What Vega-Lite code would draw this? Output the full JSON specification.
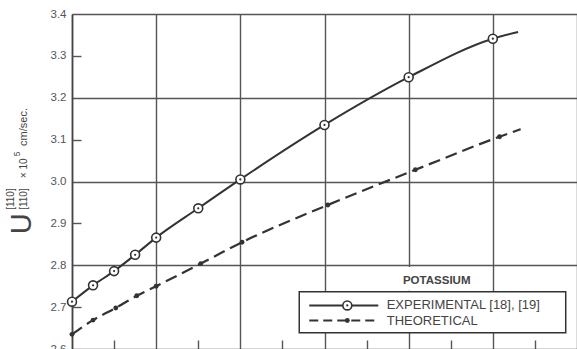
{
  "$schema": "https://vega.github.io/schema/vega-lite/v6.json",
  "width": 505,
  "height": 335,
  "autosize": {"type": "none"},
  "padding": {"left": 72, "top": 14, "right": 0, "bottom": 0},
  "background": "white",
  "config": {"view": {"stroke": null}, "font": "Liberation Sans"},
  "datasets": {
    "experimental": [
      {"x": 0, "u": 2.713, "measured": true},
      {"x": 0.25, "u": 2.752, "measured": true},
      {"x": 0.5, "u": 2.786, "measured": true},
      {"x": 0.75, "u": 2.825, "measured": true},
      {"x": 1.0, "u": 2.866, "measured": true},
      {"x": 1.5, "u": 2.936, "measured": true},
      {"x": 2.0, "u": 3.005, "measured": true},
      {"x": 3.0, "u": 3.135, "measured": true},
      {"x": 4.0, "u": 3.249, "measured": true},
      {"x": 5.0, "u": 3.341, "measured": true},
      {"x": 5.3, "u": 3.357, "measured": false}
    ],
    "theoretical": [
      {"x": 0, "u": 2.635, "computed": true},
      {"x": 0.25, "u": 2.669, "computed": true},
      {"x": 0.52, "u": 2.698, "computed": true},
      {"x": 0.77, "u": 2.727, "computed": true},
      {"x": 1.0, "u": 2.75, "computed": true},
      {"x": 1.53, "u": 2.804, "computed": true},
      {"x": 2.02, "u": 2.855, "computed": true},
      {"x": 3.04, "u": 2.944, "computed": true},
      {"x": 4.08, "u": 3.028, "computed": true},
      {"x": 5.08, "u": 3.107, "computed": true},
      {"x": 5.33, "u": 3.125, "computed": false}
    ],
    "one": [{}]
  },
  "resolve": {"axis": {"x": "independent", "y": "independent"}},
  "layer": [
    {
      "data": {"name": "experimental"},
      "mark": {"type": "line", "interpolate": "monotone", "color": "#333", "strokeWidth": 2},
      "encoding": {
        "x": {"field": "x", "type": "quantitative",
          "scale": {"domain": [0, 6], "nice": false, "zero": false},
          "axis": {"orient": "bottom", "values": [0, 1, 2, 3, 4, 5, 6], "grid": true, "gridColor": "#555", "gridWidth": 1.4, "ticks": false, "labels": false, "domain": false, "title": null}},
        "y": {"field": "u", "type": "quantitative",
          "scale": {"domain": [2.6, 3.4], "nice": false, "zero": false},
          "axis": {"orient": "left", "values": [2.6, 2.7, 2.8, 2.9, 3.0, 3.1, 3.2, 3.3, 3.4], "format": ".1f",
            "grid": true, "gridColor": "#555", "gridWidth": 1.4,
            "gridOpacity": {"condition": {"test": "round(datum.value*10) % 2 == 1", "value": 0}, "value": 1},
            "ticks": false, "labelPadding": 6, "labelFontSize": 11.5, "labelColor": "#555", "labelFont": "Liberation Sans",
            "domain": true, "domainColor": "#444", "domainWidth": 1.6, "title": null}}
      }
    },
    {
      "data": {"name": "theoretical"},
      "mark": {"type": "line", "interpolate": "monotone", "color": "#333", "strokeWidth": 2.2, "strokeDash": [12, 6]},
      "encoding": {
        "x": {"field": "x", "type": "quantitative",
          "axis": {"orient": "bottom", "values": [0.5, 1.5, 2.5, 3.5, 4.5, 5.5], "offset": -9, "tickSize": 9, "tickColor": "#555", "tickWidth": 1.4, "grid": false, "labels": false, "domain": false, "title": null}},
        "y": {"field": "u", "type": "quantitative",
          "axis": {"orient": "left", "values": [2.7, 2.9, 3.1, 3.3], "offset": -9, "tickSize": 9, "tickColor": "#555", "tickWidth": 1.4, "grid": false, "labels": false, "domain": false, "title": null}}
      }
    },
    {
      "data": {"name": "theoretical"},
      "transform": [{"filter": "datum.computed"}],
      "mark": {"type": "point", "shape": "circle", "filled": true, "color": "#333", "size": 24, "opacity": 1},
      "encoding": {
        "x": {"field": "x", "type": "quantitative", "axis": null},
        "y": {"field": "u", "type": "quantitative", "axis": null}
      }
    },
    {
      "data": {"name": "experimental"},
      "transform": [{"filter": "datum.measured"}],
      "mark": {"type": "point", "shape": "circle", "filled": false, "fill": "white", "fillOpacity": 1, "stroke": "#333", "strokeWidth": 1.6, "size": 80, "opacity": 1},
      "encoding": {
        "x": {"field": "x", "type": "quantitative", "axis": null},
        "y": {"field": "u", "type": "quantitative", "axis": null}
      }
    },
    {
      "data": {"name": "experimental"},
      "transform": [{"filter": "datum.measured"}],
      "mark": {"type": "point", "shape": "circle", "filled": true, "color": "#333", "size": 5, "opacity": 1},
      "encoding": {
        "x": {"field": "x", "type": "quantitative", "axis": null},
        "y": {"field": "u", "type": "quantitative", "axis": null}
      }
    },
    {
      "data": {"name": "one"},
      "mark": {"type": "rect", "fill": "white", "stroke": null},
      "encoding": {
        "x": {"datum": 3.85, "type": "quantitative", "axis": null},
        "x2": {"datum": 4.85},
        "y": {"datum": 2.796, "type": "quantitative", "axis": null},
        "y2": {"datum": 2.739}
      }
    },
    {
      "data": {"name": "one"},
      "mark": {"type": "text", "text": "POTASSIUM", "fontWeight": "bold", "fontSize": 11.5, "color": "#444", "align": "center", "baseline": "middle"},
      "encoding": {
        "x": {"datum": 4.333, "type": "quantitative", "axis": null},
        "y": {"datum": 2.763, "type": "quantitative", "axis": null}
      }
    },
    {
      "data": {"name": "one"},
      "mark": {"type": "rect", "fill": "white", "stroke": "#333", "strokeWidth": 1.5},
      "encoding": {
        "x": {"datum": 2.7, "type": "quantitative", "axis": null},
        "x2": {"datum": 5.866},
        "y": {"datum": 2.737, "type": "quantitative", "axis": null},
        "y2": {"datum": 2.639}
      }
    },
    {
      "data": {"name": "one"},
      "mark": {"type": "rule", "color": "#333", "strokeWidth": 2},
      "encoding": {
        "x": {"datum": 2.819, "type": "quantitative", "axis": null},
        "x2": {"datum": 3.639},
        "y": {"datum": 2.704, "type": "quantitative", "axis": null}
      }
    },
    {
      "data": {"name": "one"},
      "mark": {"type": "rule", "color": "#333", "strokeWidth": 2.2, "strokeDash": [9, 5]},
      "encoding": {
        "x": {"datum": 2.819, "type": "quantitative", "axis": null},
        "x2": {"datum": 3.639},
        "y": {"datum": 2.668, "type": "quantitative", "axis": null}
      }
    },
    {
      "data": {"name": "one"},
      "mark": {"type": "point", "shape": "circle", "filled": false, "fill": "white", "fillOpacity": 1, "stroke": "#333", "strokeWidth": 1.6, "size": 80, "opacity": 1},
      "encoding": {
        "x": {"datum": 3.271, "type": "quantitative", "axis": null},
        "y": {"datum": 2.704, "type": "quantitative", "axis": null}
      }
    },
    {
      "data": {"name": "one"},
      "mark": {"type": "point", "shape": "circle", "filled": true, "color": "#333", "size": 5, "opacity": 1},
      "encoding": {
        "x": {"datum": 3.271, "type": "quantitative", "axis": null},
        "y": {"datum": 2.704, "type": "quantitative", "axis": null}
      }
    },
    {
      "data": {"name": "one"},
      "mark": {"type": "point", "shape": "circle", "filled": true, "color": "#333", "size": 24, "opacity": 1},
      "encoding": {
        "x": {"datum": 3.271, "type": "quantitative", "axis": null},
        "y": {"datum": 2.668, "type": "quantitative", "axis": null}
      }
    },
    {
      "data": {"name": "one"},
      "mark": {"type": "text", "text": "EXPERIMENTAL [18], [19]", "fontSize": 13, "color": "#444", "align": "left", "baseline": "middle"},
      "encoding": {
        "x": {"datum": 3.739, "type": "quantitative", "axis": null},
        "y": {"datum": 2.705, "type": "quantitative", "axis": null}
      }
    },
    {
      "data": {"name": "one"},
      "mark": {"type": "text", "text": "THEORETICAL", "fontSize": 13, "color": "#444", "align": "left", "baseline": "middle"},
      "encoding": {
        "x": {"datum": 3.739, "type": "quantitative", "axis": null},
        "y": {"datum": 2.667, "type": "quantitative", "axis": null}
      }
    },
    {
      "data": {"name": "one"},
      "mark": {"type": "text", "text": "U", "fontSize": 29, "color": "#444", "angle": 270, "align": "center", "baseline": "alphabetic"},
      "encoding": {
        "x": {"datum": -0.487, "type": "quantitative", "axis": null},
        "y": {"datum": 2.899, "type": "quantitative", "axis": null}
      }
    },
    {
      "data": {"name": "one"},
      "mark": {"type": "text", "text": "[110]", "fontSize": 10, "color": "#444", "angle": 270, "align": "center", "baseline": "middle"},
      "encoding": {
        "x": {"datum": -0.725, "type": "quantitative", "axis": null},
        "y": {"datum": 2.958, "type": "quantitative", "axis": null}
      }
    },
    {
      "data": {"name": "one"},
      "mark": {"type": "text", "text": "[110]", "fontSize": 10, "color": "#444", "angle": 270, "align": "center", "baseline": "middle"},
      "encoding": {
        "x": {"datum": -0.576, "type": "quantitative", "axis": null},
        "y": {"datum": 2.958, "type": "quantitative", "axis": null}
      }
    },
    {
      "data": {"name": "one"},
      "mark": {"type": "text", "text": "× 10", "fontSize": 10, "color": "#444", "angle": 270, "align": "left", "baseline": "alphabetic"},
      "encoding": {
        "x": {"datum": -0.535, "type": "quantitative", "axis": null},
        "y": {"datum": 3.008, "type": "quantitative", "axis": null}
      }
    },
    {
      "data": {"name": "one"},
      "mark": {"type": "text", "text": "5", "fontSize": 8.5, "color": "#444", "angle": 270, "align": "center", "baseline": "middle"},
      "encoding": {
        "x": {"datum": -0.653, "type": "quantitative", "axis": null},
        "y": {"datum": 3.066, "type": "quantitative", "axis": null}
      }
    },
    {
      "data": {"name": "one"},
      "mark": {"type": "text", "text": "cm/sec.", "fontSize": 11, "color": "#444", "angle": 270, "align": "left", "baseline": "alphabetic"},
      "encoding": {
        "x": {"datum": -0.535, "type": "quantitative", "axis": null},
        "y": {"datum": 3.085, "type": "quantitative", "axis": null}
      }
    }
  ]
}
